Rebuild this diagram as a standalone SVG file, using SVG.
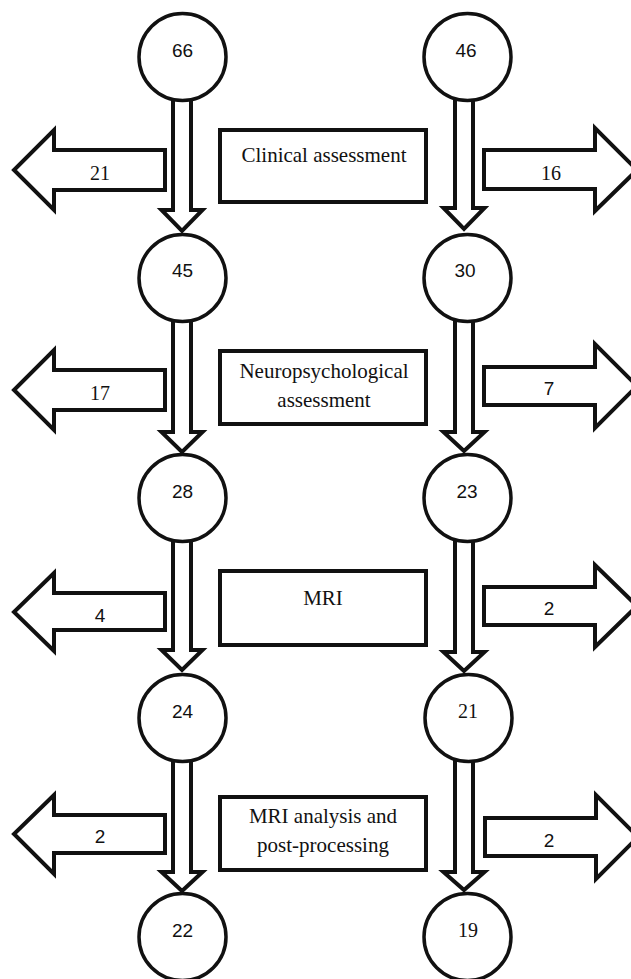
<svg xmlns="http://www.w3.org/2000/svg" width="631" height="979" viewBox="0 0 631 979">
<style>
.sh{fill:#fff;stroke:#111;stroke-width:4;stroke-linejoin:miter}
.ci{fill:#fff;stroke:#111;stroke-width:3.5}
.bx{fill:#fff;stroke:#111;stroke-width:4}
.t{font-family:"Liberation Serif","Times New Roman",serif;font-size:21px;fill:#111;text-anchor:middle}
.n{font-family:"Liberation Serif","Times New Roman",serif;font-size:20px;fill:#111;text-anchor:middle}
.s{font-family:"Liberation Sans",Arial,sans-serif;font-size:19px;fill:#111;text-anchor:middle}
</style>
<rect width="631" height="979" fill="#fff"/>
<g id="connectors">
<!-- left column down arrows -->
<path class="sh" d="M173,98 V210 H161.5 L182,231 L202.5,210 H191 V98 Z"/>
<path class="sh" d="M173,319 V432 H161.5 L182,452 L202.5,432 H191 V319 Z"/>
<path class="sh" d="M173,539 V650 H161.5 L182,670 L202.5,650 H191 V539 Z"/>
<path class="sh" d="M173,759 V872 H161.5 L182,891 L202.5,872 H191 V759 Z"/>
<!-- right column down arrows -->
<path class="sh" d="M455,98 V208 H443.5 L464,229 L484.5,208 H473 V98 Z"/>
<path class="sh" d="M455,319 V432 H443.5 L464,451 L484.5,432 H473 V319 Z"/>
<path class="sh" d="M455,539 V652 H443.5 L464,671 L484.5,652 H473 V539 Z"/>
<path class="sh" d="M455,759 V872 H443.5 L464,890 L484.5,872 H473 V759 Z"/>
<!-- left exit arrows -->
<path class="sh" d="M165,150 H54 V130 L14,170 L54,210 V190 H165 Z"/>
<path class="sh" d="M165,370 H54 V350 L14,390 L54,430 V410 H165 Z"/>
<path class="sh" d="M165,593 H54 V573 L14,612 L54,651 V630 H165 Z"/>
<path class="sh" d="M165,815 H54 V795 L14,834 L54,874 V853 H165 Z"/>
<!-- right exit arrows -->
<path class="sh" d="M484,150 H595 V128 L637,170 L595,211 V189 H484 Z"/>
<path class="sh" d="M484,367 H595 V344 L637,386 L595,428 V405 H484 Z"/>
<path class="sh" d="M484,587 H595 V565 L637,606 L595,647 V625 H484 Z"/>
<path class="sh" d="M485,818 H596 V795 L638,837 L596,879 V856 H485 Z"/>
</g>
<g id="label-exits">
<text class="n" x="100" y="180">21</text>
<text class="n" x="100" y="400">17</text>
<text class="s" x="100" y="622">4</text>
<text class="s" x="100" y="843">2</text>
<text class="n" x="551" y="180">16</text>
<text class="s" x="549" y="395">7</text>
<text class="s" x="549" y="615">2</text>
<text class="s" x="549" y="847">2</text>
</g>
<g id="node-66"><circle class="ci" cx="182.5" cy="57" r="43.5"/><text class="s" x="182.5" y="57">66</text></g>
<g id="node-45"><circle class="ci" cx="182.5" cy="278" r="43.5"/><text class="s" x="182.5" y="277">45</text></g>
<g id="node-28"><circle class="ci" cx="182.5" cy="498" r="43.5"/><text class="s" x="182.5" y="498">28</text></g>
<g id="node-24"><circle class="ci" cx="182.5" cy="718" r="43.5"/><text class="s" x="182.5" y="718">24</text></g>
<g id="node-22"><circle class="ci" cx="182.5" cy="937" r="43.5"/><text class="s" x="182.5" y="937">22</text></g>
<g id="node-46"><circle class="ci" cx="467.5" cy="57" r="43.5"/><text class="s" x="466" y="57">46</text></g>
<g id="node-30"><circle class="ci" cx="467.5" cy="278" r="43.5"/><text class="s" x="465" y="277">30</text></g>
<g id="node-23"><circle class="ci" cx="467.5" cy="498" r="43.5"/><text class="s" x="467" y="498">23</text></g>
<g id="node-21"><circle class="ci" cx="468.5" cy="718" r="43.5"/><text class="n" x="468" y="718">21</text></g>
<g id="node-19"><circle class="ci" cx="467.5" cy="937" r="43.5"/><text class="n" x="468" y="937">19</text></g>
<g id="box-clinical"><rect class="bx" x="220" y="130" width="206" height="72"/><text class="t" x="324" y="162">Clinical assessment</text></g>
<g id="box-neuro"><rect class="bx" x="220" y="351" width="206" height="73"/><text class="t" x="324" y="378">Neuropsychological</text><text class="t" x="324" y="407">assessment</text></g>
<g id="box-mri"><rect class="bx" x="220" y="571" width="206" height="74"/><text class="t" x="323" y="605">MRI</text></g>
<g id="box-analysis"><rect class="bx" x="220" y="797" width="206" height="73"/><text class="t" x="323" y="823">MRI analysis and</text><text class="t" x="323" y="852">post-processing</text></g>
</svg>
